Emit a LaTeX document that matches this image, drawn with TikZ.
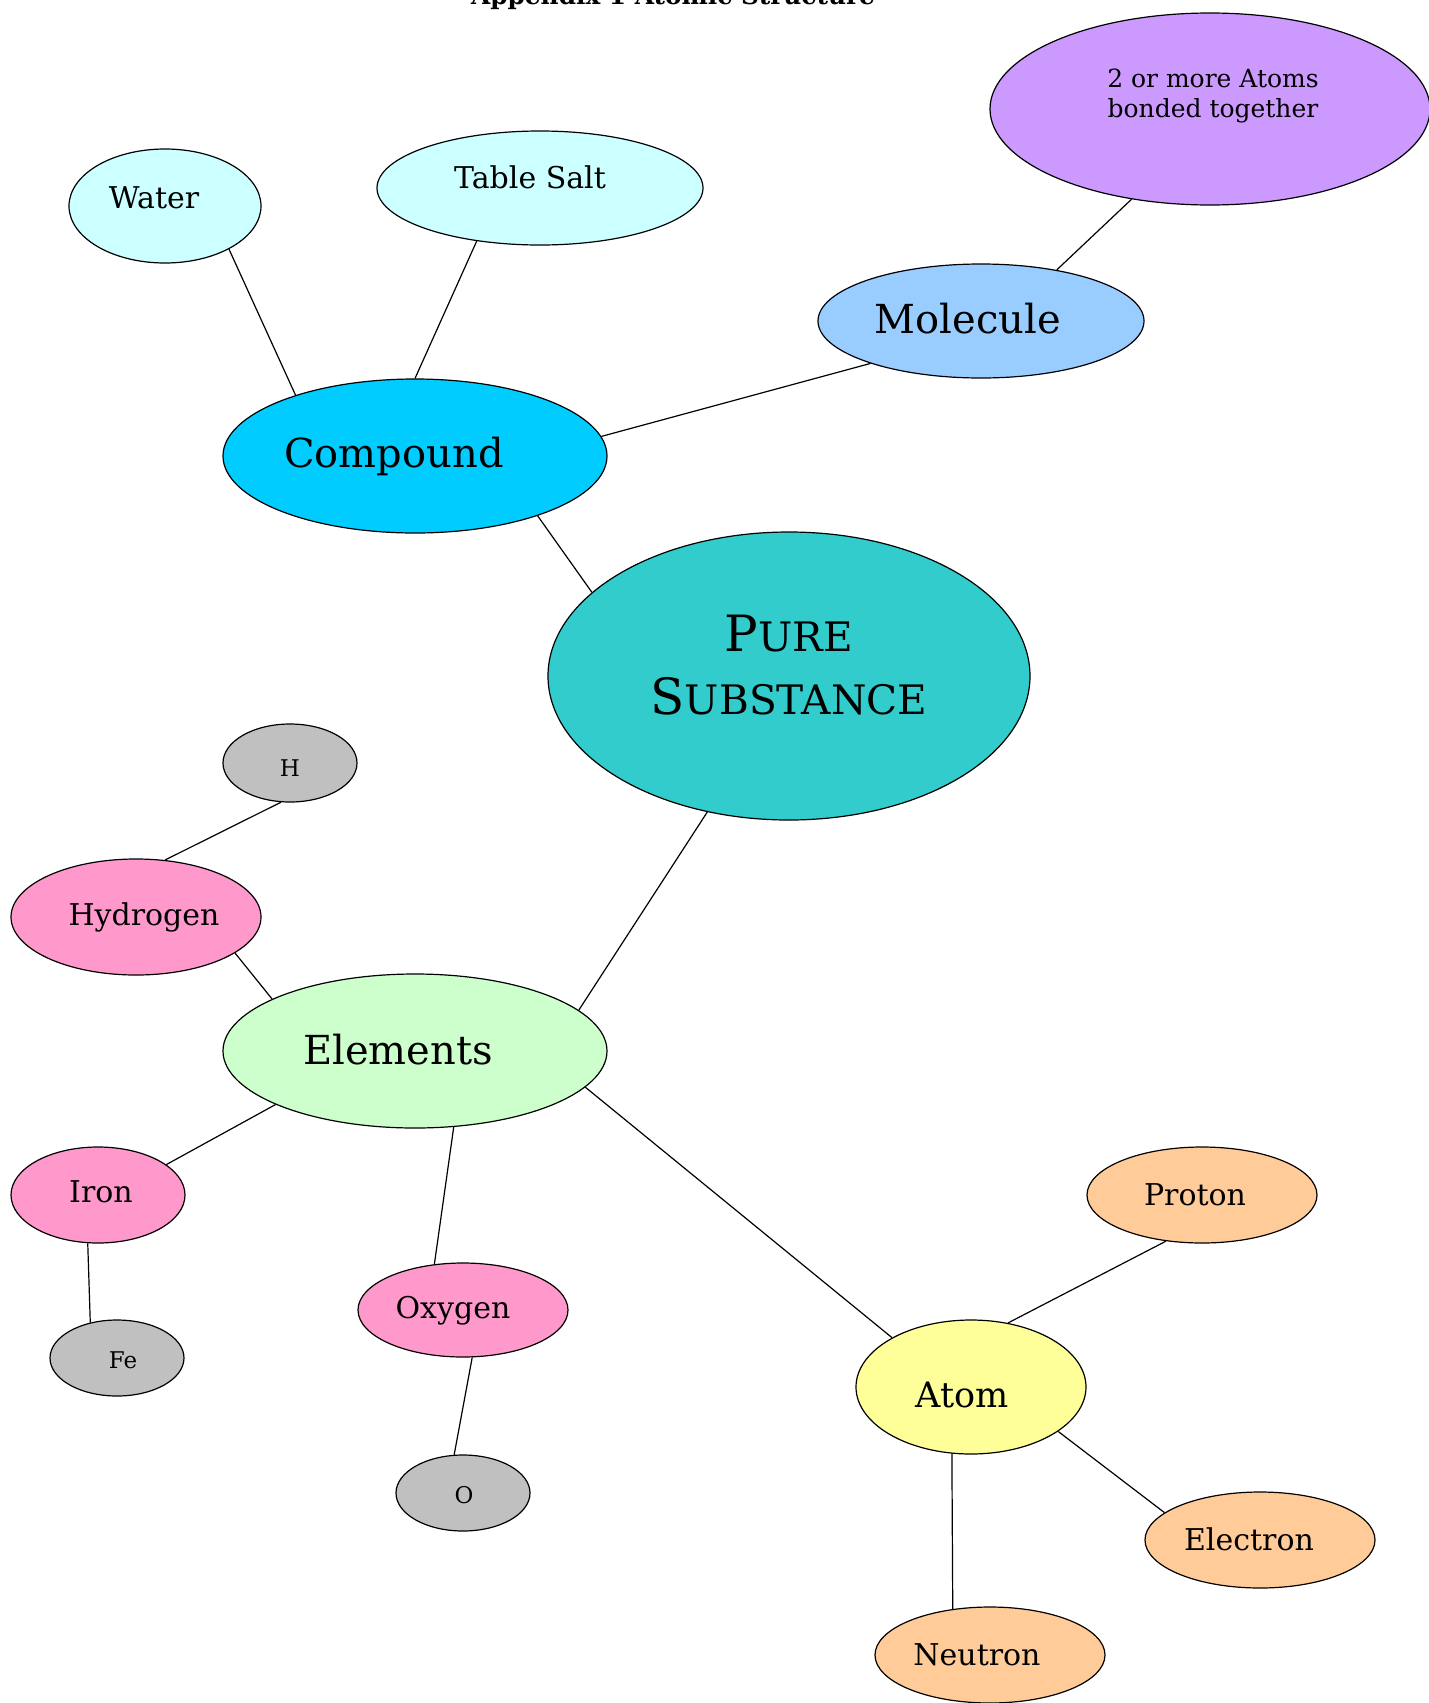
\documentclass[tikz,border=0pt]{standalone}
\usepackage{fontspec}
\setmainfont{DejaVu Serif}
\usetikzlibrary{shapes.geometric}

\definecolor{purplebg}{HTML}{CC99FF}
\definecolor{molbg}{HTML}{99CCFF}
\definecolor{cmpbg}{HTML}{00CCFF}
\definecolor{cmpkid}{HTML}{CCFFFF}
\definecolor{purebg}{HTML}{33CCCC}
\definecolor{symbg}{HTML}{C0C0C0}
\definecolor{elmkid}{HTML}{FF99CC}
\definecolor{elmbg}{HTML}{CCFFCC}
\definecolor{atombg}{HTML}{FFFF99}
\definecolor{partbg}{HTML}{FFCC99}

\tikzset{
  blob/.style={ellipse, draw, line width=0.6pt, inner sep=0pt},
  word/.style={inner sep=0pt, text height=1.05em, text depth=0.15em},
  big/.style={word, yshift=-2.3pt, font=\fontsize{20}{24}\selectfont},
  mid/.style={word, font=\fontsize{15}{18}\selectfont},
  tiny/.style={word, font=\fontsize{11.5}{14}\selectfont}
}

\begin{document}
\begin{tikzpicture}[x=0.5pt, y=-0.5pt, line width=0.6pt]
  \useasboundingbox (0,0) rectangle (1429,1703);
  \clip (0,0) rectangle (1429,1703);

  % title, cut at the top edge
  \node[anchor=base, font=\bfseries\fontsize{12.4}{15}\selectfont] (ttl) at (673,4) {Appendix 1 Atomic Structure};

  % compound branch
  \node[blob, fill=purplebg, minimum width=220pt, minimum height=96pt] (grp) at (1210,109) {};
  \node[align=center, font=\fontsize{12.5}{15}\selectfont, inner sep=0pt] (grp-t) at (1213,96) {2 or more Atoms\\bonded together};
  \node[blob, fill=molbg, minimum width=163pt, minimum height=57pt] (mol) at (981,321) {};
  \node[big] (mol-t) at (968,320) {Molecule};
  \node[blob, fill=cmpkid, minimum width=96pt, minimum height=57pt] (wat) at (165,206) {};
  \node[mid] (wat-t) at (154,199) {Water};
  \node[blob, fill=cmpkid, minimum width=163pt, minimum height=57pt] (salt) at (540,188) {};
  \node[mid] (salt-t) at (530,179) {Table Salt};
  \node[blob, fill=cmpbg, minimum width=192pt, minimum height=77pt] (cmp) at (415,456) {};
  \node[big] (cmp-t) at (394,454) {Compound};

  % centre
  \node[blob, fill=purebg, minimum width=241pt, minimum height=144pt] (pure) at (789,676) {};
  \node[align=center, inner sep=0pt, font=\fontsize{25}{31.5}\selectfont] (pure-t) at (789,665)
    {P{\fontsize{20.3}{31.5}\selectfont URE}\\
     S{\fontsize{20.3}{31.5}\selectfont UBSTANCE}};

  % element branch
  \node[blob, fill=elmbg, minimum width=192pt, minimum height=77pt] (elm) at (415,1051) {};
  \node[big] (elm-t) at (398,1051) {Elements};
  \node[blob, fill=symbg, minimum width=67pt, minimum height=39pt] (hh) at (290,763) {};
  \node[tiny] (hh-t) at (290,767) {H};
  \node[blob, fill=elmkid, minimum width=125pt, minimum height=58pt] (hyd) at (136,917) {};
  \node[mid] (hyd-t) at (144,916) {Hydrogen};
  \node[blob, fill=elmkid, minimum width=87pt, minimum height=48pt] (iron) at (98,1195) {};
  \node[mid] (iron-t) at (101,1193) {Iron};
  \node[blob, fill=symbg, minimum width=67pt, minimum height=38pt] (fe) at (117,1358) {};
  \node[tiny] (fe-t) at (123,1359) {Fe};
  \node[blob, fill=elmkid, minimum width=105pt, minimum height=47pt] (oxy) at (463,1310) {};
  \node[mid] (oxy-t) at (453,1309) {Oxygen};
  \node[blob, fill=symbg, minimum width=67pt, minimum height=38pt] (oo) at (463,1493) {};
  \node[tiny] (oo-t) at (464,1494) {O};

  % atom branch
  \node[blob, fill=atombg, minimum width=115pt, minimum height=67pt] (atom) at (971,1387) {};
  \node[word, font=\fontsize{17.5}{21}\selectfont] (atom-t) at (962,1398) {Atom};
  \node[blob, fill=partbg, minimum width=115pt, minimum height=48pt] (pro) at (1202,1195) {};
  \node[mid] (pro-t) at (1195,1196) {Proton};
  \node[blob, fill=partbg, minimum width=115pt, minimum height=48pt] (ele) at (1260,1540) {};
  \node[mid] (ele-t) at (1249,1541) {Electron};
  \node[blob, fill=partbg, minimum width=115pt, minimum height=48pt] (neu) at (990,1655) {};
  \node[mid] (neu-t) at (977,1656) {Neutron};

  % links
  \draw (wat.-34) -- (cmp.153);
  \draw (salt.-140) -- (cmp.90);
  \draw (cmp.6) -- (mol.-159);
  \draw (mol.34) -- (grp.-131);
  \draw (cmp.-26) -- (pure.157);
  \draw (pure.-121) -- (elm.14);
  \draw (hh.-103) -- (hyd.63);
  \draw (hyd.-20) -- (elm.160);
  \draw (elm.-159) -- (iron.24);
  \draw (iron.-102) -- (fe.127);
  \draw (elm.-63) -- (oxy.122);
  \draw (oxy.-79) -- (oo.103);
  \draw (elm.-12) -- (atom.148);
  \draw (atom.60) -- (pro.-128);
  \draw (atom.-27) -- (ele.164);
  \draw (atom.-106) -- (neu.129);
\end{tikzpicture}
\end{document}
